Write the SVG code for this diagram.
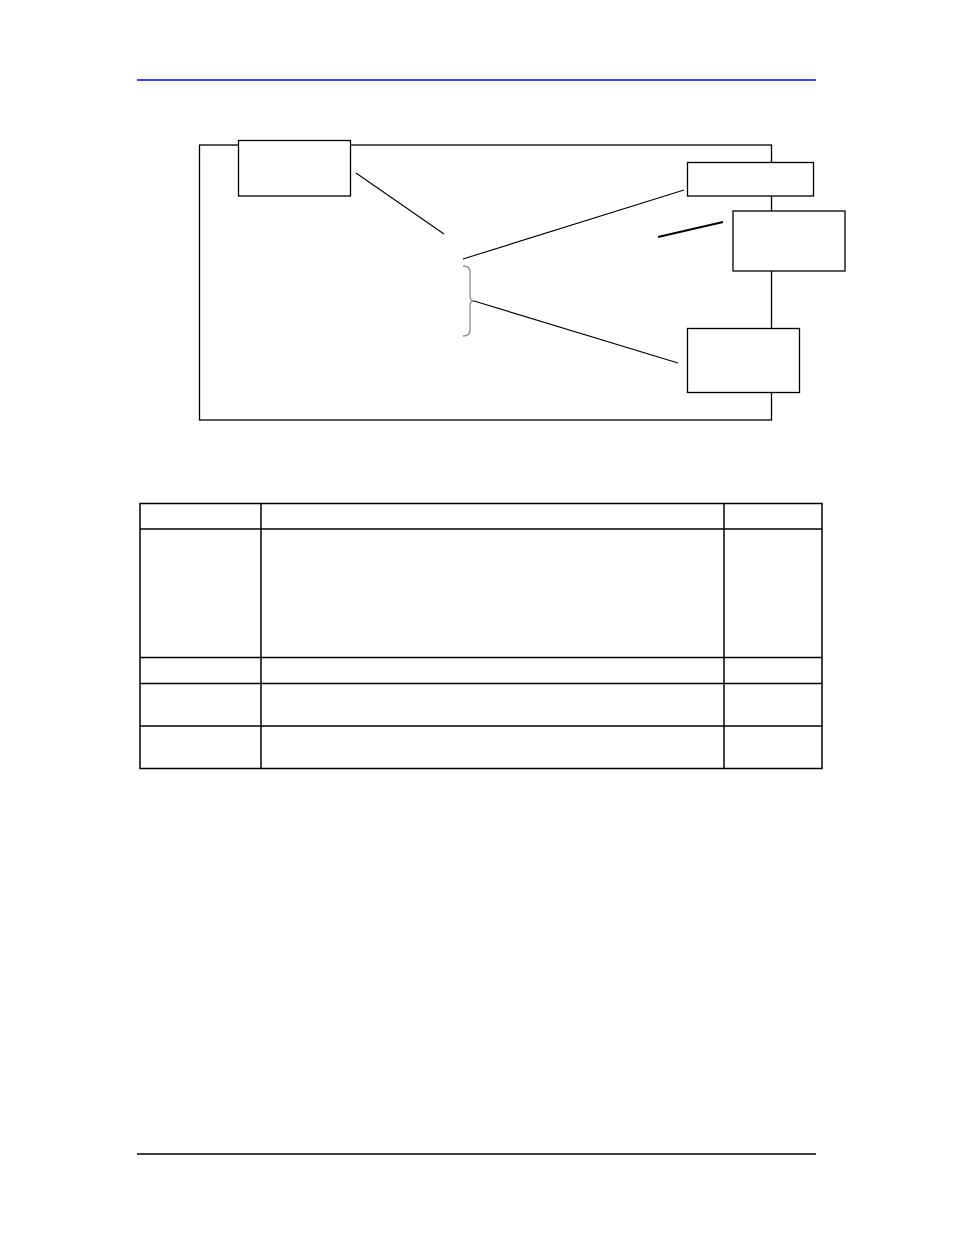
<svg xmlns="http://www.w3.org/2000/svg" width="954" height="1235" viewBox="0 0 954 1235">
<style>
.box{fill:#fff;stroke:#000;stroke-width:1.3}
.ln{stroke:#000;stroke-width:1.1;fill:none}
.tb{stroke:#000;stroke-width:1.5;fill:none}
</style>
<rect width="954" height="1235" fill="#fff"/>
<line x1="137" y1="80" x2="816" y2="80" stroke="#0000ff" stroke-width="1.5"/>
<line x1="137" y1="1154" x2="816" y2="1154" stroke="#000" stroke-width="1.3"/>
<g id="frame"><rect x="199.5" y="145" width="572" height="275" class="box"/></g>
<g id="connectors">
<line x1="356" y1="173" x2="444" y2="234" class="ln"/>
<line x1="463" y1="259" x2="684" y2="190" class="ln"/>
<line x1="658" y1="237" x2="723" y2="222" stroke="#000" stroke-width="1.8"/>
<path d="M463,266 Q470,266 470,272 L470,296 Q470,301 474,301 Q470,301 470,306 L470,330 Q470,336 463,336" stroke="#888" stroke-width="1.3" fill="none"/>
<line x1="474" y1="301" x2="678" y2="363" class="ln"/>
</g>
<g id="node1"><rect x="238.5" y="140.5" width="112" height="55.5" class="box"/></g>
<g id="node2"><rect x="687.5" y="162.5" width="126" height="33.5" class="box"/></g>
<g id="node3"><rect x="733" y="211" width="112" height="60" class="box"/></g>
<g id="node4"><rect x="687.5" y="328.5" width="112" height="64" class="box"/></g>
<g id="table">
<rect x="140" y="503.5" width="682" height="265" class="tb"/>
<line x1="261" y1="503.5" x2="261" y2="768.5" class="tb"/>
<line x1="724" y1="503.5" x2="724" y2="768.5" class="tb"/>
<line x1="140" y1="529" x2="822" y2="529" class="tb"/>
<line x1="140" y1="657.5" x2="822" y2="657.5" class="tb"/>
<line x1="140" y1="683.5" x2="822" y2="683.5" class="tb"/>
<line x1="140" y1="726" x2="822" y2="726" class="tb"/>
</g>
</svg>
